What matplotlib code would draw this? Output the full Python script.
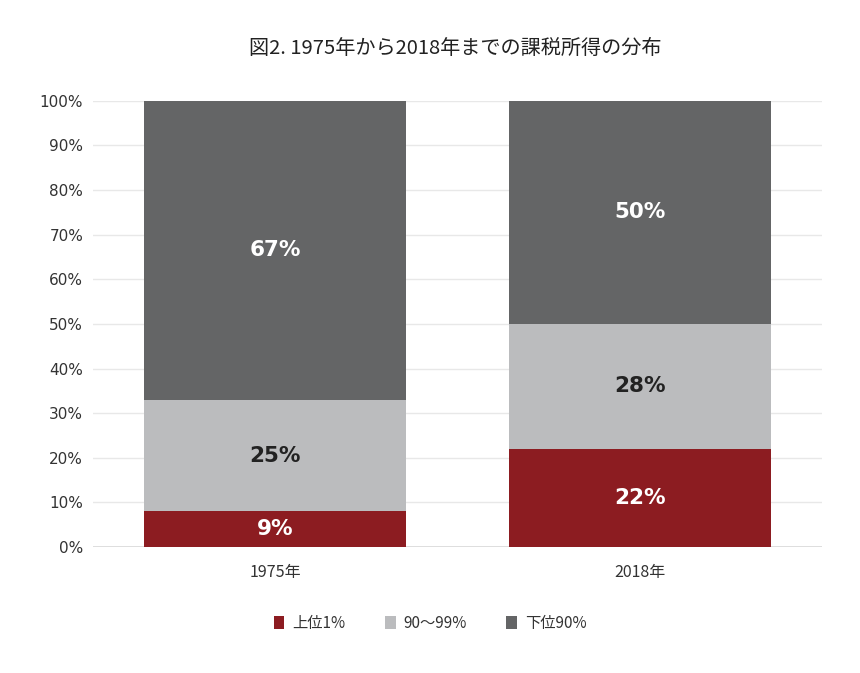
import numpy as np
import matplotlib.pyplot as plt
from matplotlib.patches import Patch

plt.rcParams['font.family'] = ['Noto Sans CJK JP', 'DejaVu Sans']

years = ['1975年', '2018年']
series = ['上位1%', '90〜99%', '下位90%']
top1 = [8, 22]
mid = [25, 28]
bottom90 = [67, 50]
labels_top1 = ['9%', '22%']
labels_mid = ['25%', '28%']
labels_bottom90 = ['67%', '50%']

colors = ['#8c1c21', '#bbbcbe', '#646566']
text_colors = ['white', '#222222', 'white']

fig = plt.figure(figsize=(8.6, 6.73), dpi=100)
ax = fig.add_axes([0.108, 0.1872, 0.848, 0.663])

x = np.arange(len(years))
width = 0.717
base = np.zeros(len(years))
for vals, labs, col, tcol in zip([top1, mid, bottom90],
                                 [labels_top1, labels_mid, labels_bottom90],
                                 colors, text_colors):
    ax.bar(x, vals, width, bottom=base, color=col, zorder=2)
    for xi, b, v, lab in zip(x, base, vals, labs):
        ax.text(xi, b + v / 2, lab, ha='center', va='center', color=tcol,
                fontsize=15.5, fontweight='bold', family='DejaVu Sans', zorder=3)
    base = base + np.array(vals)

ax.set_xlim(-0.5, 1.5)
ax.set_ylim(0, 100)
ax.set_yticks(np.arange(0, 101, 10))
ax.set_yticklabels([f'{v}%' for v in range(0, 101, 10)], family='DejaVu Sans', fontsize=11)
ax.set_xticks(x)
ax.set_xticklabels(years, fontsize=11.5)
ax.grid(axis='y', color='#e8e8e8', linewidth=1, zorder=0)
ax.axhline(0, color='#d6d6d6', linewidth=1.2, zorder=1)
for s in ax.spines.values():
    s.set_visible(False)
ax.tick_params(axis='both', length=0, labelcolor='#333333')
ax.tick_params(axis='x', pad=12)
ax.tick_params(axis='y', pad=7)

fig.text(0.529, 0.928, '図2. 1975年から2018年までの課税所得の分布',
         ha='center', va='center', fontsize=14.5, color='#222222')

handles = [Patch(facecolor=c, edgecolor='none') for c in colors]
fig.legend(handles, series, loc='center', bbox_to_anchor=(0.5, 0.074), ncol=3,
           frameon=False, fontsize=11, handlelength=0.7, handleheight=1.0,
           handletextpad=0.5, columnspacing=2.6, labelcolor='#333333')

fig.savefig('out.png', dpi=100, facecolor='white')
